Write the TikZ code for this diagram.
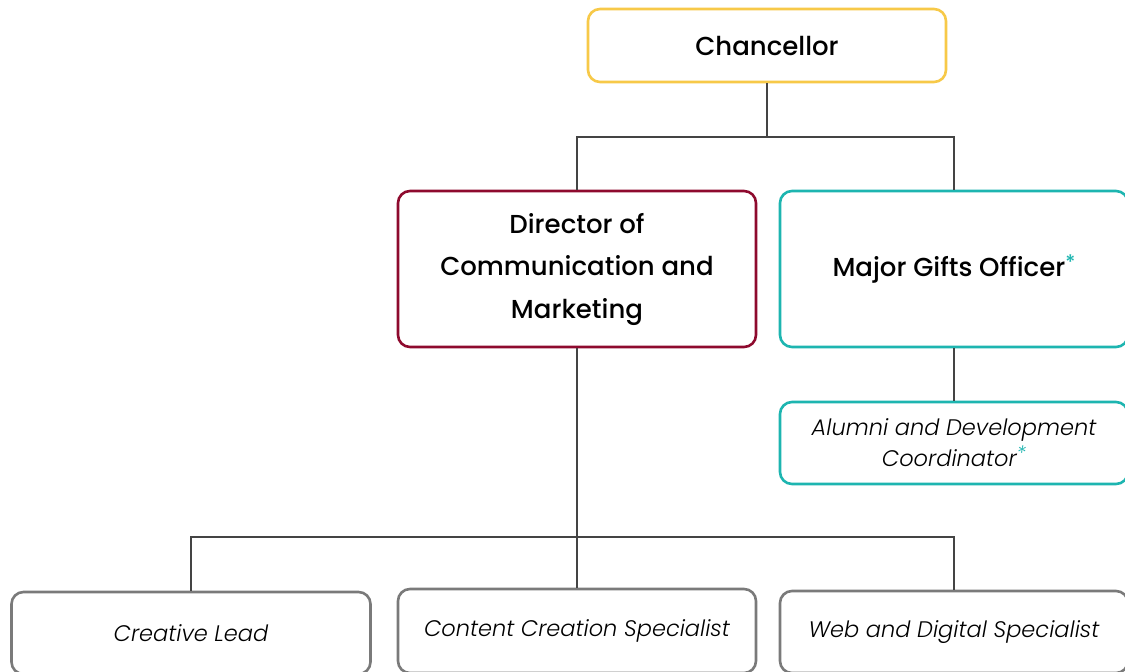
\documentclass[tikz,border=0pt]{standalone}
\usepackage{fontspec}
\setmainfont{Poppins}[BoldFont={Poppins Medium},ItalicFont={Poppins Light Italic}]
\definecolor{chanyellow}{HTML}{F7C948}
\definecolor{dirred}{HTML}{8E0A2E}
\definecolor{tealc}{HTML}{1DB5B0}
\definecolor{boxgray}{HTML}{7A7A7A}
\definecolor{linegray}{HTML}{444444}
\tikzset{
  orgbox/.style={draw, rounded corners=12pt, line width=2.6pt, fill=white, align=center, inner sep=0pt},
  titletext/.style={font=\bfseries\fontsize{26}{42.5}\selectfont},
  subtext/.style={font=\itshape\fontsize{22.5}{31}\selectfont},
  conn/.style={draw=linegray, line width=2pt}
}
\newcommand{\tast}{{\color{tealc}\raisebox{0.3em}{\fontsize{20}{20}\selectfont *}}}
\begin{document}
\begin{tikzpicture}[x=1pt,y=-1pt]
\useasboundingbox (0,0) rectangle (1125,672);
\clip (0,0) rectangle (1125,672);
\fill[white] (0,0) rectangle (1125,672);
\coordinate (j1) at (767,137);
\coordinate (j2) at (577,537);
\node[orgbox, draw=chanyellow, titletext, minimum width=358pt, minimum height=73pt] (chan) at (767,45.5) {Chancellor};
\node[orgbox, draw=dirred, titletext, minimum width=358pt, minimum height=156pt] (dir) at (577,269) {Director of\\Communication and\\Marketing};
\node[orgbox, draw=tealc, titletext, minimum width=348pt, minimum height=156pt] (mgo) at (954,269) {Major Gifts Officer\tast};
\node[orgbox, draw=tealc, subtext, minimum width=348pt, minimum height=82pt] (alum) at (954,443) {Alumni and Development\\Coordinator\tast};
\node[orgbox, draw=boxgray, subtext, minimum width=359pt, minimum height=82pt] (cl) at (191,633) {Creative Lead};
\node[orgbox, draw=boxgray, subtext, minimum width=358pt, minimum height=84pt] (ccs) at (577,631) {Content Creation Specialist};
\node[orgbox, draw=boxgray, subtext, minimum width=348pt, minimum height=82pt] (wds) at (954,632) {Web and Digital Specialist};
\draw[conn] (chan.south) -- (j1);
\draw[conn] (dir.north) |- (j1) -| (mgo.north);
\draw[conn] (mgo.south) -- (alum.north);
\draw[conn] (dir.south) -- (ccs.north);
\draw[conn] (cl.north) |- (j2) -| (wds.north);
\end{tikzpicture}
\end{document}
